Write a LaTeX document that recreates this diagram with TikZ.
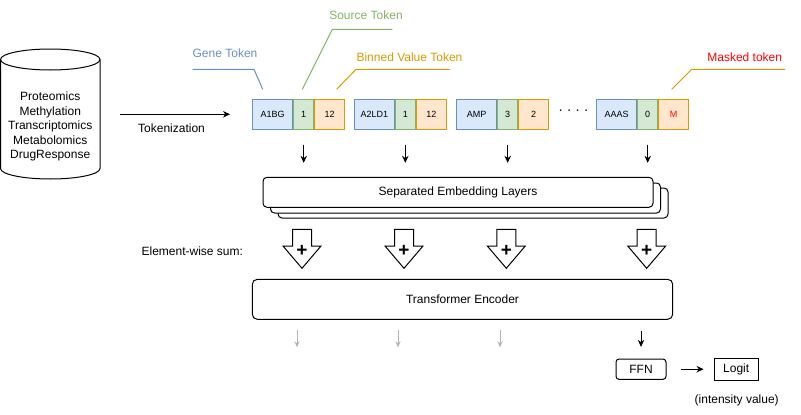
\documentclass[tikz,border=0pt]{standalone}
\usepackage{fontspec}
\setmainfont{Liberation Sans}
\usetikzlibrary{arrows.meta,positioning}

\definecolor{genefill}{HTML}{DAE8FC}
\definecolor{geneline}{HTML}{6C8EBF}
\definecolor{srcfill}{HTML}{D5E8D4}
\definecolor{srcline}{HTML}{82B366}
\definecolor{valfill}{HTML}{FFE6CC}
\definecolor{valline}{HTML}{D79B00}
\definecolor{maskred}{HTML}{FF0000}
\definecolor{outgrey}{HTML}{B3B3B3}

\tikzset{
    txt/.style={font=\fontsize{12}{14}\selectfont, inner sep=0pt, text height=8.6pt, text depth=0pt},
    tok/.style={minimum height=30, inner sep=0pt, font=\fontsize{9}{11}\selectfont, text height=6.5pt, text depth=0pt},
    gene/.style={tok, draw=geneline, fill=genefill, minimum width=40},
    src/.style={tok, draw=srcline, fill=srcfill, minimum width=20},
    val/.style={tok, draw=valline, fill=valfill, minimum width=30},
    tokarrow/.style={-{Stealth[length=7pt,width=6.5pt]}},
    greyarrow/.style={-{Stealth[length=6pt,width=5pt]}, draw=outgrey},
    layer/.style={draw, fill=white, rounded corners=4pt, minimum width=390, minimum height=30, inner sep=0pt},
    sumarrow/.style={draw, fill=white, line join=miter},
    plus/.style={font=\fontsize{19}{19}\selectfont\bfseries, inner sep=0pt}
}

\begin{document}
\begin{tikzpicture}[x=1pt, y=-1pt, line width=1pt]
    \useasboundingbox (0,0) rectangle (801,415);

    % data source
    \draw (0.5,59.5) -- (0.5,168.5) arc[start angle=180, end angle=0, x radius=49.75, y radius=10.5] -- (100,59.5);
    \draw (50.25,59.5) ellipse [x radius=49.75, y radius=10.5];
    \node[font=\fontsize{12}{14.5}\selectfont, align=center, inner sep=0pt] (db) at (50.25,126.5)
        {Proteomics\\Methylation\\Transcriptomics\\Metabolomics\\DrugResponse};
    \coordinate (dbright) at (100,114.3);
    \draw[tokarrow, shorten <=20] (dbright) -- (dbright -| 230,0);
    \node[txt] (toklbl) at (171.5,128.5) {Tokenization};

    % tokens
    \node[gene] (gene1) at (272.7,114.3) {A1BG};
    \node[src, right=0 of gene1] (src1) {1};
    \node[val, right=0 of src1] (val1) {12};

    \node[gene] (gene2) at (374.3,114.3) {A2LD1};
    \node[src, right=0 of gene2] (src2) {1};
    \node[val, right=0 of src2] (val2) {12};

    \node[gene] (gene3) at (476.7,114.3) {AMP};
    \node[src, right=0 of gene3] (src3) {3};
    \node[val, right=0 of src3] (val3) {2};

    \node[font=\fontsize{14}{14}\selectfont, inner sep=0pt] (dots) at (573.5,112) {· · · ·};

    \node[gene] (gene4) at (616.7,114.3) {AAAS};
    \node[src, right=0 of gene4] (src4) {0};
    \node[val, right=0 of src4, text=maskred] (val4) {M};

    % callouts
    \node[txt, text=geneline] (genelbl) at (225,53) {Gene Token};
    \coordinate (genetip) at (262.7,89.3);
    \draw[geneline] (192.7,69.3) -- (254,69.3) -- (genetip);

    \node[txt, text=srcline] (srclbl) at (366,15) {Source Token};
    \coordinate (srctip) at (302.3,89.3);
    \draw[srcline] (392.3,29.3) -- (332.3,29.3) -- (srctip);

    \node[txt, text=valline] (vallbl) at (409.5,56.7) {Binned Value Token};
    \coordinate (valtip) at (336.7,89.3);
    \draw[valline] (450,69.3) -- (356,69.3) -- (valtip);

    \node[txt, text=maskred] (masklbl) at (744.7,56.7) {Masked token};
    \coordinate (masktip) at (671.7,89.3);
    \draw[valline] (785,69.3) -- (691.7,69.3) -- (masktip);

    % embedding layers
    \node[layer] (emb3) at (473,203) {};
    \node[layer] (emb2) at (465.5,198) {};
    \node[layer, font=\fontsize{12}{14}\selectfont] (emb) at (458,192.3) {Separated Embedding Layers};

    \draw[tokarrow, shorten <=14.7, shorten >=14] (src1.south) -- (src1.south |- emb.north);
    \draw[tokarrow, shorten <=14.7, shorten >=14] (src2.south) -- (src2.south |- emb.north);
    \draw[tokarrow, shorten <=14.7, shorten >=14] (src3.south) -- (src3.south |- emb.north);
    \draw[tokarrow, shorten <=14.7, shorten >=14] (src4.south) -- (src4.south |- emb.north);

    % element-wise sum
    \node[txt] (sumlbl) at (192.3,251) {Element-wise sum:};
    \draw[sumarrow] (292.5,229.3) -- (311.5,229.3) -- (311.5,246) -- (321,246) -- (302,268.3) -- (283,246) -- (292.5,246) -- cycle;
    \node[plus] (sum1) at (302,251) {+};
    \draw[sumarrow] (394.5,229.3) -- (413.5,229.3) -- (413.5,246) -- (423,246) -- (404,268.3) -- (385,246) -- (394.5,246) -- cycle;
    \node[plus] (sum2) at (404,251) {+};
    \draw[sumarrow] (496.8,229.3) -- (515.8,229.3) -- (515.8,246) -- (525.3,246) -- (506.3,268.3) -- (487.3,246) -- (496.8,246) -- cycle;
    \node[plus] (sum3) at (506.3,251) {+};
    \draw[sumarrow] (637.2,229.3) -- (656.2,229.3) -- (656.2,246) -- (665.7,246) -- (646.7,268.3) -- (627.7,246) -- (637.2,246) -- cycle;
    \node[plus] (sum4) at (646.7,251) {+};

    % encoder
    \node[draw, rounded corners=5pt, minimum width=420.4, minimum height=40, inner sep=0pt, font=\fontsize{12}{14}\selectfont] (trans) at (462.5,299.3) {Transformer Encoder};

    \coordinate (out1) at (297,347.3);
    \coordinate (out2) at (398,347.3);
    \coordinate (out3) at (500,347.3);
    \draw[greyarrow, shorten <=10] (out1 |- trans.south) -- (out1);
    \draw[greyarrow, shorten <=10] (out2 |- trans.south) -- (out2);
    \draw[greyarrow, shorten <=10] (out3 |- trans.south) -- (out3);

    % head
    \node[draw, rounded corners=3pt, minimum width=50, minimum height=20.3, inner sep=0pt, font=\fontsize{12}{14}\selectfont] (ffn) at (641,369.2) {FFN};
    \node[draw, minimum width=44.3, minimum height=21.7, inner sep=0pt, font=\fontsize{12}{14}\selectfont] (logit) at (736.2,369.2) {Logit};
    \node[txt] (intens) at (736.7,399) {(intensity value)};

    \draw[tokarrow, shorten <=10.7, shorten >=11.7] (ffn.north |- trans.south) -- (ffn.north);
    \draw[tokarrow, shorten <=14.4, shorten >=10] (ffn.east) -- (logit.west);
\end{tikzpicture}
\end{document}
